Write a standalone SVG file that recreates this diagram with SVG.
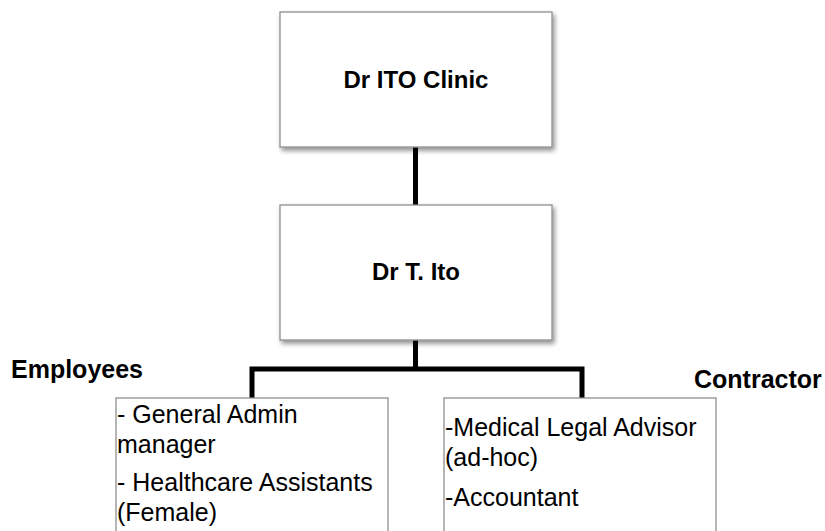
<svg xmlns="http://www.w3.org/2000/svg" width="825" height="531" viewBox="0 0 825 531">
  <defs>
    <filter id="shadow" x="-10%" y="-10%" width="130%" height="130%">
      <feGaussianBlur in="SourceAlpha" stdDeviation="2.5"/>
      <feOffset dx="2" dy="3" result="b"/>
      <feComponentTransfer><feFuncA type="linear" slope="0.45"/></feComponentTransfer>
      <feMerge><feMergeNode/><feMergeNode in="SourceGraphic"/></feMerge>
    </filter>
  </defs>
  <style>
    .box { fill: #ffffff; stroke: #8f8f8f; stroke-width: 1.3; }
    .title { font-family: "Liberation Sans", Arial, sans-serif; font-weight: bold; font-size: 24px; fill: #000; text-anchor: middle; }
    .label { font-family: "Liberation Sans", Arial, sans-serif; font-weight: bold; font-size: 25px; fill: #000; }
    .item { font-family: "Liberation Sans", Arial, sans-serif; font-size: 25px; fill: #000; }
    .conn { stroke: #000; stroke-width: 5; fill: none; stroke-linejoin: miter; stroke-linecap: square; }
  </style>

  <g id="connectors">
    <line class="conn" x1="415.5" y1="149" x2="415.5" y2="203"/>
    <path class="conn" d="M415.5 342 V369 M252 396 V369 H582 V396"/>
  </g>

  <g id="clinic">
    <rect class="box" x="280" y="12" width="272" height="135" filter="url(#shadow)"/>
    <text class="title" x="416" y="88">Dr ITO Clinic</text>
  </g>

  <g id="drito">
    <rect class="box" x="280" y="205" width="272" height="135" filter="url(#shadow)"/>
    <text class="title" x="416" y="280">Dr T. Ito</text>
  </g>

  <g id="employees">
    <text class="label" x="11" y="378">Employees</text>
    <rect class="box" x="116" y="398" width="272" height="150"/>
    <text class="item" x="117" y="423">- General Admin</text>
    <text class="item" x="117" y="453">manager</text>
    <text class="item" x="117" y="491">- Healthcare Assistants</text>
    <text class="item" x="117" y="521">(Female)</text>
  </g>

  <g id="contractor">
    <text class="label" x="694" y="388">Contractor</text>
    <rect class="box" x="444" y="398" width="272" height="150"/>
    <text class="item" x="445" y="436">-Medical Legal Advisor</text>
    <text class="item" x="445" y="466">(ad-hoc)</text>
    <text class="item" x="445" y="506">-Accountant</text>
  </g>
</svg>
